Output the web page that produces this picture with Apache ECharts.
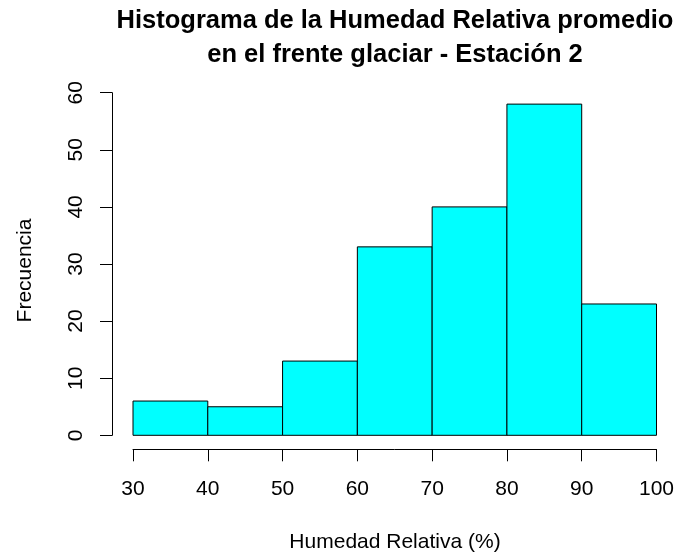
<!DOCTYPE html>
<html>
<head>
<meta charset="utf-8">
<script src="https://cdn.jsdelivr.net/npm/echarts@6/dist/echarts.min.js"></script>
<style>
html,body{margin:0;padding:0;background:#fff;}
#chart{width:678px;height:554px;}
</style>
</head>
<body>
<div id="chart"></div>
<script>
// Class bins (lower / upper edges) and their counts
const binStarts = [30, 40, 50, 60, 70, 80, 90];
const binEnds = [40, 50, 60, 70, 80, 90, 100];
const counts = [6, 5, 13, 33, 40, 58, 23];
const xTicks = [30, 40, 50, 60, 70, 80, 90, 100];
const yTicks = [0, 10, 20, 30, 40, 50, 60];

const font = '"Liberation Sans", Arial, Helvetica, sans-serif';
const data = binStarts.map((s, i) => [s, binEnds[i], counts[i]]);

const chart = echarts.init(document.getElementById('chart'));
chart.setOption({
  animation: false,
  backgroundColor: '#fff',
  title: [{
    text: 'Histograma de la Humedad Relativa promedio\nen el frente glaciar - Estación 2',
    left: 395, top: 3.5, padding: 0, textAlign: 'center',
    textStyle: { fontFamily: font, fontWeight: 'bold', fontSize: 25.5, lineHeight: 34, color: '#000' }
  }],
  graphic: [
    {
      type: 'text', x: 395, y: 542.7,
      style: { text: 'Humedad Relativa (%)', font: '21px ' + font, fill: '#000', align: 'center', verticalAlign: 'middle' }
    },
    {
      type: 'text', x: 25.7, y: 270.5, rotation: Math.PI / 2,
      style: { text: 'Frecuencia', font: '21px ' + font, fill: '#000', align: 'center', verticalAlign: 'middle' }
    }
  ],
  grid: { left: 133, right: 21.5, top: 92.7, bottom: 118.7 },
  xAxis: {
    type: 'value', min: xTicks[0], max: xTicks[xTicks.length - 1], interval: 10,
    offset: 14,
    axisLine: { show: true, onZero: false, lineStyle: { color: '#000', width: 1 } },
    axisTick: { show: true, length: 12, lineStyle: { color: '#000' } },
    axisLabel: { margin: 29.4, fontFamily: font, fontSize: 21, color: '#000' },
    splitLine: { show: false }
  },
  yAxis: {
    type: 'value', min: yTicks[0], max: yTicks[yTicks.length - 1], interval: 10,
    offset: 21,
    axisLine: { show: true, onZero: false, lineStyle: { color: '#000', width: 1 } },
    axisTick: { show: true, length: 12, lineStyle: { color: '#000' } },
    axisLabel: { margin: 25.5, rotate: 90, fontFamily: font, fontSize: 21, color: '#000' },
    splitLine: { show: false }
  },
  series: [{
    type: 'custom',
    data: data,
    encode: { x: [0, 1], y: 2 },
    renderItem: function (params, api) {
      const p0 = api.coord([api.value(0), 0]);
      const p1 = api.coord([api.value(1), api.value(2)]);
      return {
        type: 'rect',
        shape: { x: p0[0], y: p1[1], width: p1[0] - p0[0], height: p0[1] - p1[1] },
        style: { fill: '#00FFFF', stroke: '#000', lineWidth: 1 }
      };
    }
  }]
});
</script>
</body>
</html>
